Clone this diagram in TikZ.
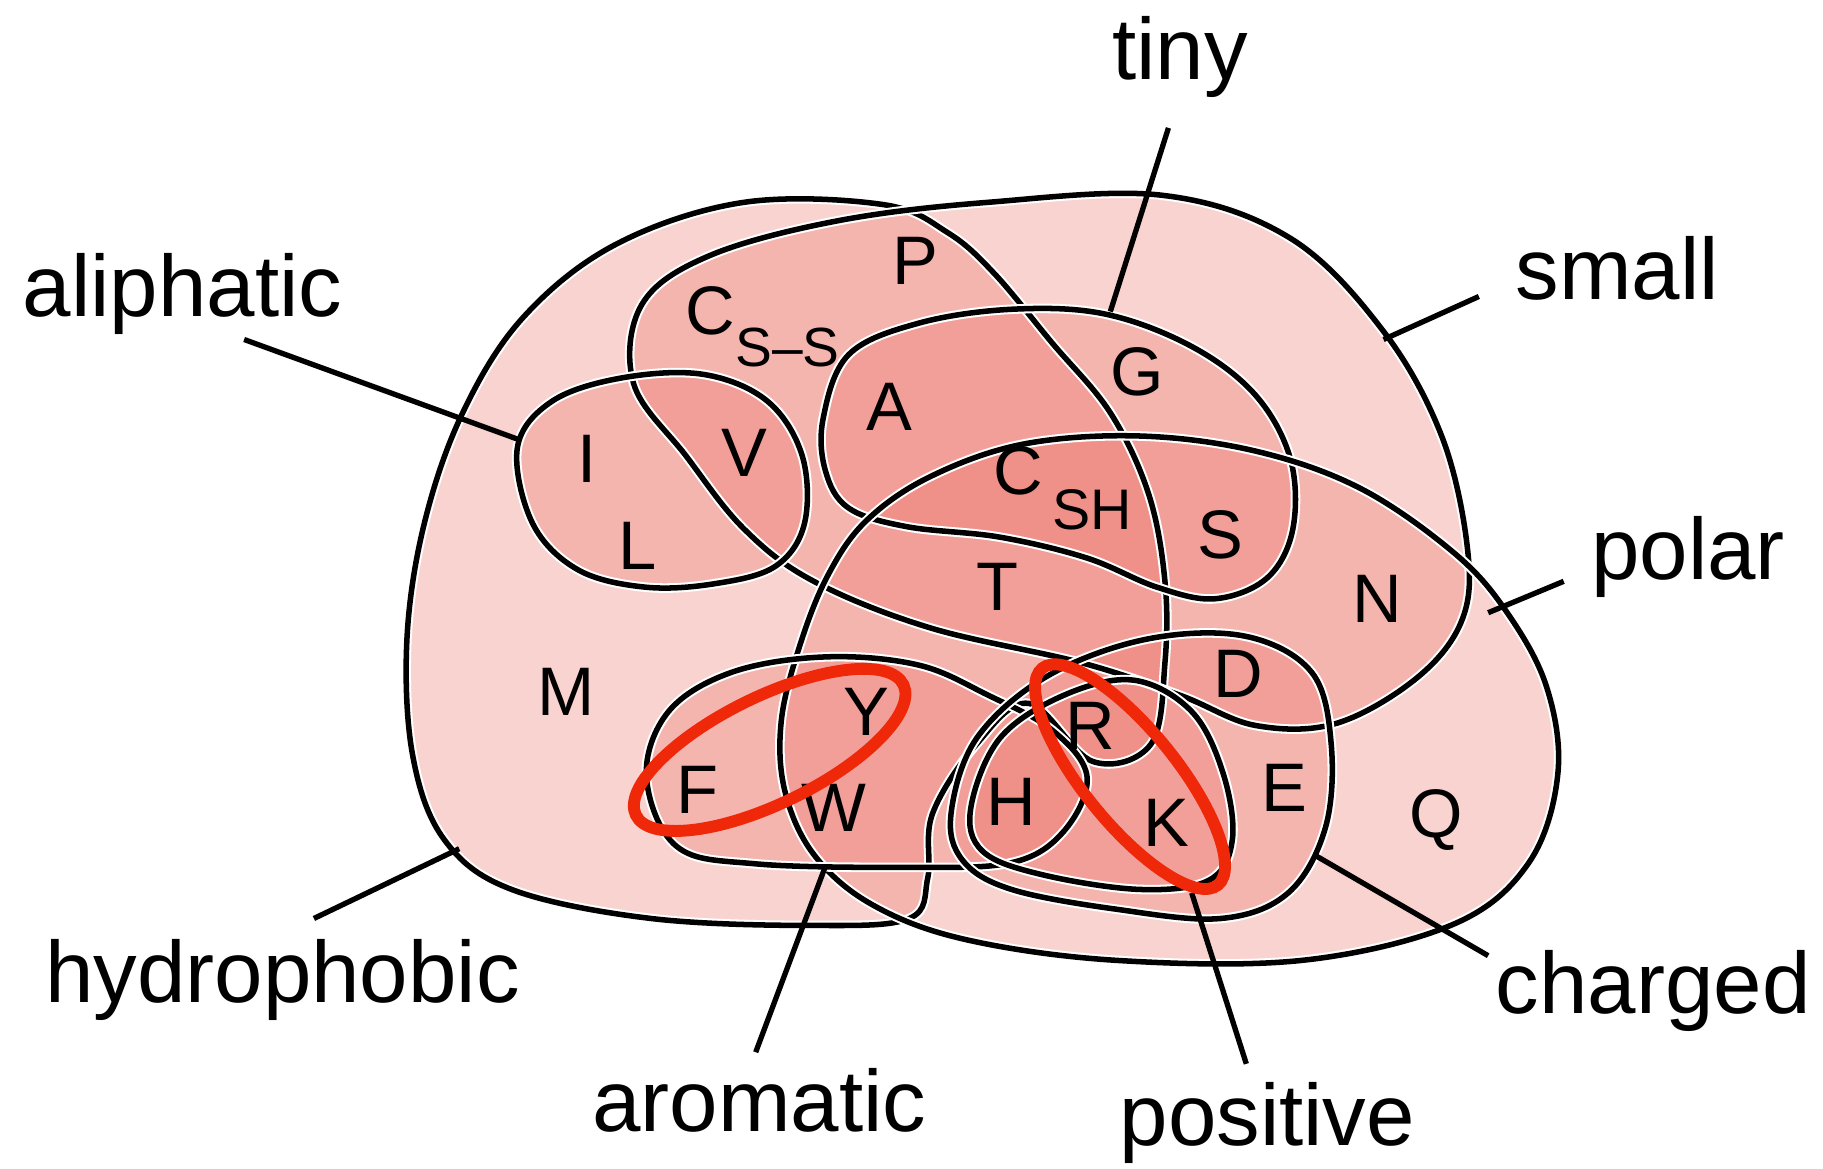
\documentclass[tikz,border=0pt]{standalone}
\usepackage{fontspec}
\setmainfont{Liberation Sans}
\definecolor{setfill}{RGB}{235,110,100}
\definecolor{ringred}{RGB}{240,40,10}

% outlines of the sets (screen coordinates, y down)
\newcommand{\hydrophobicloop}{plot[smooth cycle, tension=0.6] coordinates {(760,176) (640,174) (530,210) (450,273) (398,355) (365,450) (350,550) (355,650) (382,722) (440,765) (560,790) (700,796) (782,790) (798,755) (802,700) (840,640) (885,605) (940,655) (990,640) (1002,570) (1002,500) (988,425) (955,355) (905,295) (855,235) (815,200)}}
\newcommand{\smallloop}{plot[smooth cycle, tension=0.6] coordinates {(545,330) (552,262) (610,220) (720,190) (850,174) (1000,168) (1110,205) (1190,285) (1240,375) (1262,470) (1258,532) (1220,582) (1150,622) (1080,624) (1015,598) (930,570) (800,540) (700,500) (640,455) (590,392)}}
\newcommand{\tinyloop}{plot[smooth cycle, tension=0.6] coordinates {(708,360) (730,305) (790,278) (870,266) (950,270) (1025,298) (1080,340) (1110,395) (1112,455) (1090,497) (1045,515) (995,505) (935,480) (860,462) (780,453) (730,437) (710,405)}}
\newcommand{\polarloop}{plot[smooth cycle, tension=0.6] coordinates {(745,448) (800,410) (880,382) (980,375) (1080,388) (1170,420) (1250,475) (1295,525) (1330,590) (1340,665) (1315,742) (1250,795) (1120,826) (960,826) (830,808) (750,778) (700,735) (675,680) (672,620) (688,555) (712,495)}}
\newcommand{\aliphaticloop}{plot[smooth cycle, tension=0.6] coordinates {(445,385) (475,345) (535,325) (605,322) (660,345) (690,392) (692,450) (667,487) (615,502) (555,505) (497,490) (458,450)}}
\newcommand{\aromaticloop}{plot[smooth cycle, tension=0.6] coordinates {(556,668) (575,612) (630,578) (710,565) (790,572) (850,598) (905,628) (935,668) (915,715) (870,742) (780,746) (650,743) (582,728)}}
\newcommand{\chargedloop}{plot[smooth cycle, tension=0.6] coordinates {(818,700) (840,635) (900,582) (985,550) (1070,547) (1128,578) (1145,640) (1140,712) (1108,768) (1050,790) (960,782) (870,765) (828,740)}}
\newcommand{\positiveloop}{plot[smooth cycle, tension=0.6] coordinates {(835,695) (860,635) (915,598) (975,585) (1025,612) (1052,665) (1060,722) (1040,757) (980,765) (895,752) (845,732)}}

\begin{document}
\begin{tikzpicture}[x=0.01cm, y=-0.01cm,
  setarea/.style = {fill=setfill, fill opacity=0.3},
  setline/.style = {draw=white, line width=0.5pt, double=black, double distance=1.35pt},
  groupname/.style = {anchor=base, inner sep=0pt, font=\fontsize{21.3}{24}\selectfont},
  acid/.style = {anchor=base, inner sep=0pt, font=\fontsize{16.8}{19}\selectfont},
  pointer/.style = {line width=1.3pt},
  redring/.style = {draw=ringred, line width=2.9pt},
 ]
\useasboundingbox (0,0) rectangle (1568,1005);

% shading: overlaps get darker
\fill[setarea] \hydrophobicloop;
\fill[setarea] \smallloop;
\fill[setarea] \tinyloop;
\fill[setarea] \polarloop;
\fill[setarea] \aliphaticloop;
\fill[setarea] \aromaticloop;
\fill[setarea] \chargedloop;
\fill[setarea] \positiveloop;

% outlines
\draw[setline] \hydrophobicloop;
\draw[setline] \smallloop;
\draw[setline] \tinyloop;
\draw[setline] \polarloop;
\draw[setline] \aliphaticloop;
\draw[setline] \aromaticloop;
\draw[setline] \chargedloop;
\draw[setline] \positiveloop;

% group names
\node[groupname] (tiny) at (1015,68) {tiny};
\node[groupname] (small) at (1391,258) {small};
\node[groupname] (aliphatic) at (157,272) {aliphatic};
\node[groupname] (polar) at (1452,498) {polar};
\node[groupname] (hydrophobic) at (243,862) {hydrophobic};
\node[groupname] (charged) at (1422,872) {charged};
\node[groupname] (aromatic) at (653,973) {aromatic};
\node[groupname] (positive) at (1090,985) {positive};

\coordinate (tiny-a) at (1005,110);  \coordinate (tiny-b) at (955,268);
\coordinate (small-a) at (1272,255); \coordinate (small-b) at (1190,292);
\coordinate (aliph-a) at (210,292);  \coordinate (aliph-b) at (446,378);
\coordinate (polar-a) at (1345,500); \coordinate (polar-b) at (1280,527);
\coordinate (hydro-a) at (270,790);  \coordinate (hydro-b) at (395,730);
\coordinate (arom-a) at (650,905);   \coordinate (arom-b) at (710,745);
\coordinate (pos-a) at (1072,915);   \coordinate (pos-b) at (1025,768);
\coordinate (charg-a) at (1280,822); \coordinate (charg-b) at (1130,735);

\draw[pointer] (tiny-a) -- (tiny-b);
\draw[pointer] (small-a) -- (small-b);
\draw[pointer] (aliph-a) -- (aliph-b);
\draw[pointer] (polar-a) -- (polar-b);
\draw[pointer] (hydro-a) -- (hydro-b);
\draw[pointer] (arom-a) -- (arom-b);
\draw[pointer] (pos-a) -- (pos-b);
\draw[pointer] (charg-a) -- (charg-b);

% amino acids
\node[acid] (P) at (787,245) {P};
\node[acid, anchor=base west] (Css) at (589,288) {C\raisebox{-0.27cm}{\fontsize{13.5}{15}\selectfont S–S}};
\node[acid] (G) at (978,340) {G};
\node[acid] (A) at (765,370) {A};
\node[acid] (I) at (505,415) {I};
\node[acid] (V) at (640,410) {V};
\node[acid, anchor=base west] (Csh) at (854,425) {C\hspace{0.08cm}\raisebox{-0.3cm}{\fontsize{14}{16}\selectfont SH}};
\node[acid] (S) at (1050,480) {S};
\node[acid] (L) at (548,490) {L};
\node[acid] (T) at (858,525) {T};
\node[acid] (N) at (1185,535) {N};
\node[acid] (M) at (487,615) {M};
\node[acid] (D) at (1065,600) {D};
\node[acid] (Y) at (745,633) {Y};
\node[acid] (R) at (938,645) {R};
\node[acid] (F) at (600,700) {F};
\node[acid] (E) at (1105,698) {E};
\node[acid] (Q) at (1235,720) {Q};
\node[acid] (H) at (870,710) {H};
\node[acid] (W) at (717,715) {W};
\node[acid] (K) at (1003,728) {K};

% red marks
\draw[redring, rotate around={26:(662,645)}] (662,645) ellipse [x radius=128, y radius=46];
\draw[redring, rotate around={-51:(972,668)}] (972,668) ellipse [x radius=120, y radius=40];
\end{tikzpicture}
\end{document}
